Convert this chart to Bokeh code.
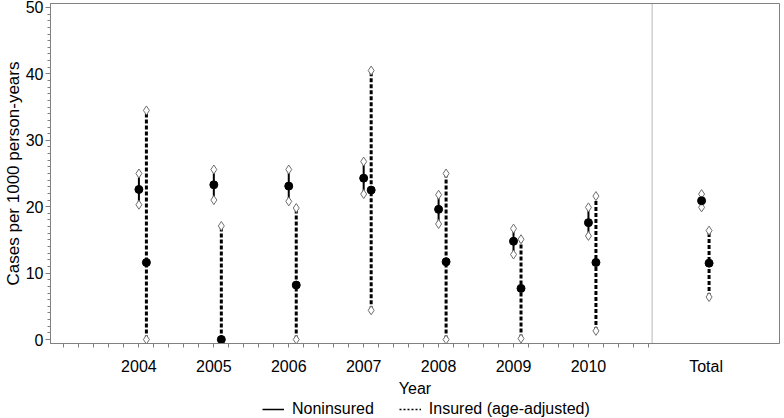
from bokeh.plotting import figure
from bokeh.layouts import column
from bokeh.models import (FixedTicker, Range1d, Legend, LegendItem, BoxAnnotation)
from bokeh.embed import file_html
from bokeh.resources import INLINE

# ---------------- data ----------------
categories = ["2004", "2005", "2006", "2007", "2008", "2009", "2010", "Total"]
years = [2004, 2005, 2006, 2007, 2008, 2009, 2010]
non_est = [22.6, 23.3, 23.1, 24.3, 19.6, 14.8, 17.6, 20.9]
non_lo = [20.3, 21.0, 20.8, 21.9, 17.4, 12.8, 15.6, 19.9]
non_hi = [25.0, 25.6, 25.6, 26.8, 21.8, 16.7, 19.9, 21.9]
ins_est = [11.6, 0.0, 8.2, 22.5, 11.7, 7.7, 11.6, 11.5]
ins_lo = [0.0, 0.0, 0.0, 4.4, 0.0, 0.15, 1.3, 6.4]
ins_hi = [34.5, 17.1, 19.8, 40.5, 25.0, 15.1, 21.6, 16.4]
y_ticks = [0, 10, 20, 30, 40, 50]
x_title = "Year"
y_title = "Cases per 1000 person-years"
series_names = ["Noninsured", "Insured (age-adjusted)"]

# ---------------- layout constants ----------------
X_START, X_END = 2002.82, 2012.55
DIVIDER = 2010.85
TOTAL_X = 2011.51
TOTAL_LABEL_X = 2011.57
OFFSET = 0.1
FONT = "Liberation Sans"
GRAY = "#808080"
NAN = float("nan")

xs_non = years + [TOTAL_X]
xs_ins = [x + OFFSET for x in xs_non]

p = figure(x_range=Range1d(X_START, X_END), y_range=Range1d(-0.6, 50.6),
           output_backend="svg", toolbar_location=None,
           frame_width=729, frame_height=340,
           min_border_top=3, min_border_right=2, min_border_left=40,
           min_border_bottom=0)
p.grid.visible = False
p.outline_line_color = GRAY
p.background_fill_color = "white"

# x axis: labels on major ticks (tick lines hidden), tick marks drawn as minor ticks
x_major = years + [TOTAL_LABEL_X]
minor = [round(2003.0 + 0.2 * i, 2) for i in range(0, 40)]
p.xaxis.ticker = FixedTicker(ticks=x_major, minor_ticks=minor)
p.xaxis.major_label_overrides = {TOTAL_LABEL_X: categories[-1]}
p.xaxis.major_label_overrides.update({y: c for y, c in zip(years, categories[:-1])})
p.yaxis.ticker = FixedTicker(ticks=y_ticks, minor_ticks=list(range(0, 51)))

for ax in (p.xaxis, p.yaxis):
    ax.axis_line_color = GRAY
    ax.major_tick_line_color = GRAY
    ax.minor_tick_line_color = GRAY
    ax.major_tick_in = 0
    ax.minor_tick_in = 0
    ax.major_label_text_font = FONT
    ax.major_label_text_font_size = "16px"
    ax.major_label_text_color = "black"
    ax.axis_label_text_font = FONT
    ax.axis_label_text_font_size = "16px"
    ax.axis_label_text_font_style = "normal"
    ax.axis_label_text_color = "black"

p.yaxis.major_tick_out = 5
p.yaxis.minor_tick_out = 3
p.yaxis.major_label_standoff = 2
p.yaxis.axis_label_standoff = 0
p.yaxis.axis_label_text_font_size = "17px"

p.xaxis.major_tick_line_color = None
p.xaxis.major_tick_out = 0
p.xaxis.minor_tick_out = 4
p.xaxis.major_label_standoff = 10
p.xaxis.axis_label_standoff = 2

p.xaxis.axis_label = x_title
p.yaxis.axis_label = y_title

# divider between year panel and total panel
p.add_layout(BoxAnnotation(left=DIVIDER, right=DIVIDER, fill_alpha=0,
                           line_color=GRAY, line_width=1))

# error bars
p.segment(x0=xs_non, y0=non_lo, x1=xs_non, y1=non_hi, line_color="black", line_width=2)
p.segment(x0=xs_ins, y0=ins_lo, x1=xs_ins, y1=ins_hi, line_color="black", line_width=3,
          line_dash="4 2")

# end diamonds
for xs, lo, hi in ((xs_non, non_lo, non_hi), (xs_ins, ins_lo, ins_hi)):
    p.scatter(x=xs + xs, y=lo + hi, marker="diamond", size=9,
              fill_color="white", line_color="#6e6e6e", line_width=1)

# estimates
p.scatter(x=xs_non, y=non_est, marker="circle", size=8, fill_color="black", line_color="black")
p.scatter(x=xs_ins, y=ins_est, marker="circle", size=8, fill_color="black", line_color="black")

# ---------------- legend strip below the plot ----------------
lg = figure(width=773, height=20, output_backend="svg", toolbar_location=None,
            x_axis_location=None, y_axis_location=None,
            min_border_left=0, min_border_right=0, min_border_top=0, min_border_bottom=0,
            x_range=Range1d(0, 1), y_range=Range1d(0, 1))
lg.outline_line_color = None
lg.grid.visible = False
# legend proxies (NaN data: nothing drawn in the strip itself)
l1 = lg.line(x=[NAN], y=[NAN], line_color="black", line_width=1.5)
l1b = lg.scatter(x=[NAN], y=[NAN], marker="diamond", size=5, fill_color="white",
                 line_color="#6e6e6e")
l2 = lg.line(x=[NAN], y=[NAN], line_color="black", line_width=1.5, line_dash="2 2")
legend = Legend(items=[LegendItem(label=series_names[0], renderers=[l1]),
                       LegendItem(label=series_names[1], renderers=[l2])],
                orientation="horizontal", location=(212, 1))
legend.label_text_font = FONT
legend.label_text_font_size = "16px"
legend.label_text_color = "black"
legend.border_line_color = None
legend.background_fill_alpha = 0
legend.padding = 0
legend.margin = 0
legend.spacing = 25
legend.glyph_width = 22
legend.glyph_height = 16
legend.label_standoff = 8
legend.label_height = 16
lg.add_layout(legend, "center")

layout = column(p, lg, spacing=0)
open("out.html", "w").write(file_html(layout, INLINE))
